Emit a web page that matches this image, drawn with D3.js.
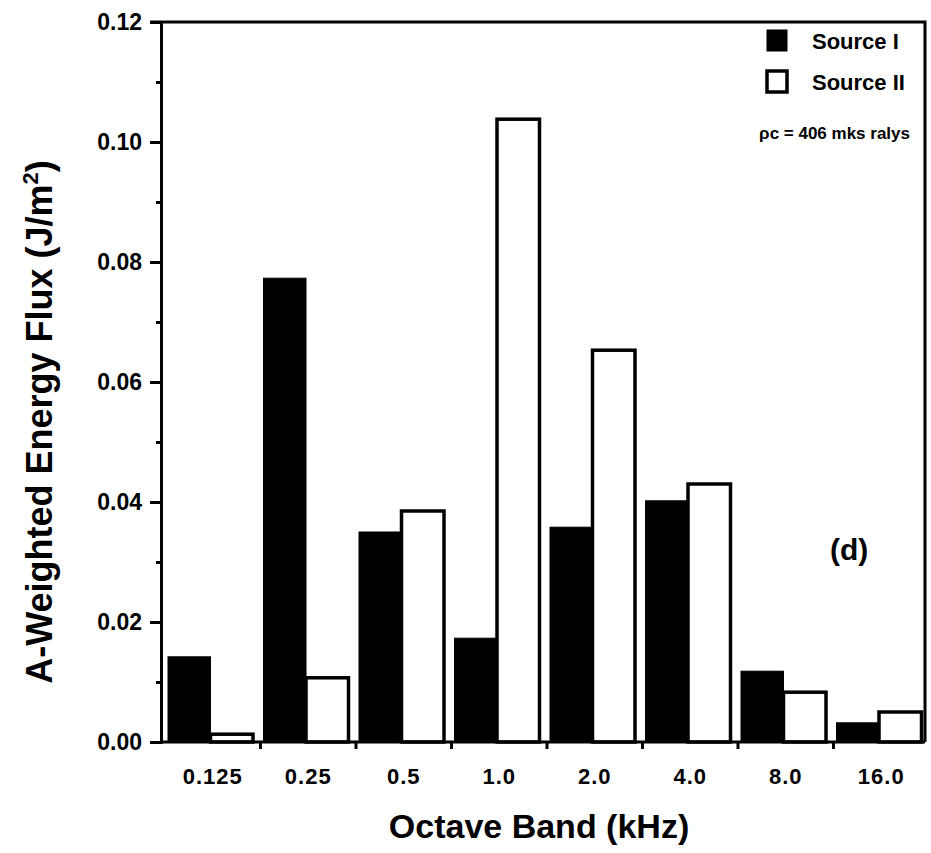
<!DOCTYPE html>
<html><head><meta charset="utf-8">
<script src="https://cdn.jsdelivr.net/npm/d3@7"></script>
<style>
body{margin:0;background:#fff}
svg{display:block}
text{font-family:"Liberation Sans",Arial,Helvetica,sans-serif;fill:#000}
</style>
</head><body>
<svg id="c" width="931" height="853"></svg>
<script>
const categories = ["0.125","0.25","0.5","1.0","2.0","4.0","8.0","16.0"];
const seriesNames = ["Source I","Source II"];
const sourceI  = [0.0142,0.0773,0.0350,0.0173,0.0358,0.0402,0.0118,0.0032];
const sourceII = [0.0013,0.0107,0.0385,0.1038,0.0653,0.0430,0.0083,0.0050];
const yTicks = [0,0.02,0.04,0.06,0.08,0.10,0.12];
const yMinorTicks = [0.01,0.03,0.05,0.07,0.09,0.11];

const svg = d3.select("#c");
const L = 161, R = 925, T = 22, B = 742;

const x = d3.scaleBand().domain(categories).range([165, 165 + 8*95.5]).paddingInner(0).paddingOuter(0);
const xs = d3.scaleBand().domain(seriesNames).range([3, 88]);
const y = d3.scaleLinear().domain([0, 0.12]).range([B, T]);

const rows = [];
categories.forEach((c,i)=>{
  rows.push({cat:c, s:"Source I", v:sourceI[i]});
  rows.push({cat:c, s:"Source II", v:sourceII[i]});
});

// bars
svg.append("g").selectAll("rect").data(rows).join("rect")
  .attr("x", d => x(d.cat) + xs(d.s))
  .attr("width", xs.bandwidth())
  .attr("y", d => y(d.v))
  .attr("height", d => B - y(d.v))
  .attr("fill", d => d.s === "Source I" ? "#000" : "#fff")
  .attr("stroke", "#000")
  .attr("stroke-width", d => d.s === "Source I" ? 1 : 3.5);

// frame
svg.append("path")
  .attr("d", `M${150},${T}H${R}V${B}`)
  .attr("fill","none").attr("stroke","#000").attr("stroke-width",3);

// y axis major
const yAxis = svg.append("g").attr("transform",`translate(${L},0)`)
  .call(d3.axisLeft(y).tickValues(yTicks).tickFormat(d3.format(".2f")).tickSize(11).tickPadding(8));
yAxis.select(".domain").attr("stroke-width",3);
yAxis.selectAll(".tick line").attr("stroke-width",3);
yAxis.selectAll(".tick text").attr("font-size",23).attr("font-weight","bold");

const yMinor = svg.append("g").attr("transform",`translate(${L},0)`)
  .call(d3.axisLeft(y).tickValues(yMinorTicks).tickFormat("").tickSize(5));
yMinor.select(".domain").remove();
yMinor.selectAll(".tick line").attr("stroke-width",3);

// x axis (labels at band centres)
const xAxis = svg.append("g").attr("transform",`translate(0,${B})`)
  .call(d3.axisBottom(x).tickSize(0).tickPadding(26));
xAxis.select(".domain").attr("d", `M${L},0H${R}`).attr("stroke-width",3);
xAxis.selectAll(".tick text").attr("font-size",22).attr("font-weight","bold").attr("letter-spacing","1px");

// x tick marks at band boundaries
svg.append("g").selectAll("line").data(categories.slice(1)).join("line")
  .attr("x1", d => x(d)).attr("x2", d => x(d))
  .attr("y1", B).attr("y2", B + 7)
  .attr("stroke","#000").attr("stroke-width",3);

// axis titles
svg.append("text").attr("x", 539).attr("y", 838).attr("text-anchor","middle")
  .attr("font-size",34).attr("font-weight","bold").text("Octave Band (kHz)");
const yt = svg.append("text").attr("transform","translate(52,422) rotate(-90)")
  .attr("text-anchor","middle").attr("font-size",36).attr("font-weight","bold");
yt.append("tspan").text("A-Weighted Energy Flux (J/m");
yt.append("tspan").attr("font-size",22).attr("dy",-14).text("2");
yt.append("tspan").attr("dy",14).text(")");

// legend
const leg = svg.append("g");
seriesNames.forEach((s,i)=>{
  const yy = 30 + i*41;
  leg.append("rect").attr("x",767).attr("y",yy).attr("width",20).attr("height",21)
    .attr("fill", i===0 ? "#000" : "#fff").attr("stroke","#000").attr("stroke-width", i===0?1:3.5);
  leg.append("text").attr("x",812).attr("y",yy+19).attr("font-size",22).attr("font-weight","bold").text(s);
});
leg.append("text").attr("x",910).attr("y",139).attr("text-anchor","end")
  .attr("font-size",17).attr("font-weight","bold").text("ρc = 406 mks ralys");

svg.append("text").attr("x",830).attr("y",560).attr("font-size",30).attr("font-weight","bold").text("(d)");
</script>
</body></html>
